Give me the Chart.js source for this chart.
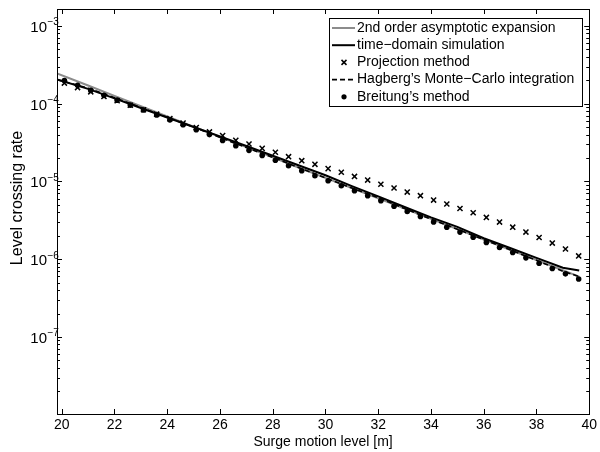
<!DOCTYPE html>
<html>
<head>
<meta charset="utf-8">
<script src="https://cdn.jsdelivr.net/npm/chart.js@4"></script>
<style>
  html, body { margin: 0; padding: 0; background: #fff; }
  #wrap { width: 600px; height: 452px; }
</style>
</head>
<body>
<div id="wrap"><canvas id="rateChart"></canvas></div>
<script>
// surge levels where the markers sit
const levels = [20.1, 20.6, 21.1, 21.6, 22.1, 22.6, 23.1, 23.6, 24.1, 24.6,
  25.1, 25.6, 26.1, 26.6, 27.1, 27.6, 28.1, 28.6, 29.1, 29.6,
  30.1, 30.6, 31.1, 31.6, 32.1, 32.6, 33.1, 33.6, 34.1, 34.6,
  35.1, 35.6, 36.1, 36.6, 37.1, 37.6, 38.1, 38.6, 39.1, 39.6]

const projection = [1.84e-4, 1.61e-4, 1.42e-4, 1.24e-4, 1.09e-4, 9.53e-5, 8.36e-5, 7.33e-5, 6.41e-5, 5.62e-5,
  4.93e-5, 4.33e-5, 3.88e-5, 3.37e-5, 3.03e-5, 2.66e-5, 2.37e-5, 2.08e-5, 1.85e-5, 1.66e-5,
  1.46e-5, 1.31e-5, 1.16e-5, 1.04e-5, 9.20e-6, 8.22e-6, 7.29e-6, 6.55e-6, 5.75e-6, 5.12e-6,
  4.49e-6, 3.95e-6, 3.44e-6, 3.00e-6, 2.58e-6, 2.23e-6, 1.90e-6, 1.61e-6, 1.35e-6, 1.10e-6]

const breitung = [1.99e-4, 1.72e-4, 1.48e-4, 1.28e-4, 1.11e-4, 9.59e-5, 8.28e-5, 7.16e-5, 6.19e-5, 5.35e-5,
  4.62e-5, 4.00e-5, 3.37e-5, 2.88e-5, 2.51e-5, 2.16e-5, 1.87e-5, 1.59e-5, 1.37e-5, 1.18e-5,
  1.02e-5, 8.81e-6, 7.59e-6, 6.55e-6, 5.66e-6, 4.81e-6, 4.10e-6, 3.54e-6, 3.00e-6, 2.58e-6,
  2.23e-6, 1.92e-6, 1.64e-6, 1.41e-6, 1.22e-6, 1.04e-6, 8.87e-7, 7.57e-7, 6.47e-7, 5.57e-7]

// surge levels for the curves
const lineLevels = [19.82, 21, 22, 23, 24, 25, 26, 27, 28, 29, 30,
  31, 32, 33, 34, 35, 36, 37, 38, 39, 39.62]

const asymptotic = [2.44e-4, 1.71e-4, 1.26e-4, 9.30e-5, 6.87e-5, 5.07e-5, 3.74e-5, 2.76e-5, 2.04e-5, 1.50e-5, 1.11e-5,
  8.19e-6, 6.04e-6, 4.47e-6, 3.30e-6, 2.43e-6, 1.79e-6, 1.32e-6, 9.77e-7, 7.21e-7, 5.97e-7]

const timeDomain = [2.05e-4, 1.55e-4, 1.17e-4, 8.81e-5, 6.65e-5, 5.01e-5, 3.80e-5, 2.85e-5, 2.14e-5, 1.60e-5, 1.20e-5,
  8.70e-6, 6.41e-6, 4.68e-6, 3.45e-6, 2.60e-6, 1.86e-6, 1.39e-6, 1.04e-6, 7.76e-7, 7.13e-7]

const hagberg = [2.04e-4, 1.58e-4, 1.19e-4, 8.91e-5, 6.68e-5, 5.01e-5, 3.67e-5, 2.72e-5, 2.04e-5, 1.50e-5, 1.11e-5,
  8.22e-6, 6.17e-6, 4.47e-6, 3.27e-6, 2.43e-6, 1.78e-6, 1.32e-6, 9.66e-7, 7.00e-7, 5.97e-7]

const xTicks = [20, 22, 24, 26, 28, 30, 32, 34, 36, 38, 40]
const yDecades = [1e-7, 1e-6, 1e-5, 1e-4, 1e-3]
const yTitle = 'Level crossing rate'

const FONT = '"Liberation Sans", Arial, Helvetica, sans-serif'

function pairs(xs, ys) {
  return xs.map((x, i) => ({ x: x, y: ys[i] }))
}

// box, inward ticks (matlab style), 10^n labels, y title and the legend box
const boxPlugin = {
  id: 'boxPlugin',
  afterDraw(chart) {
    const ctx = chart.ctx, a = chart.chartArea
    const xs = chart.scales.x, ys = chart.scales.y
    ctx.save()
    ctx.strokeStyle = '#000'
    ctx.lineWidth = 1
    ctx.beginPath()
    xTicks.forEach(t => {
      const px = Math.round(xs.getPixelForValue(t)) + 0.5
      ctx.moveTo(px, a.bottom); ctx.lineTo(px, a.bottom - 5)
      ctx.moveTo(px, a.top); ctx.lineTo(px, a.top + 5)
    })
    for (let e = -8; e <= -3; e++) {
      for (let m = 1; m <= 9; m++) {
        const v = m * Math.pow(10, e)
        if (v < ys.min || v > ys.max) continue
        const py = Math.round(ys.getPixelForValue(v)) + 0.5
        const len = m == 1 ? 5 : 3
        ctx.moveTo(a.left, py); ctx.lineTo(a.left + len, py)
        ctx.moveTo(a.right, py); ctx.lineTo(a.right - len, py)
      }
    }
    ctx.stroke()
    ctx.strokeRect(Math.round(a.left) + 0.5, Math.round(a.top) + 0.5,
      Math.round(a.right - a.left), Math.round(a.bottom - a.top))

    // y tick labels with raised exponent
    ctx.fillStyle = '#000'
    yDecades.forEach(v => {
      const py = ys.getPixelForValue(v)
      const ex = '\u2212' + String(-Math.round(Math.log10(v)))
      ctx.font = '15px ' + FONT
      ctx.textAlign = 'right'
      ctx.textBaseline = 'alphabetic'
      ctx.fillText('10', 47, py + 6)
      ctx.font = '10px ' + FONT
      ctx.textAlign = 'left'
      ctx.fillText(ex, 47.5, py - 0.5)
    })

    // y title
    ctx.save()
    ctx.translate(22, 198)
    ctx.rotate(-Math.PI / 2)
    ctx.font = '16px ' + FONT
    ctx.textAlign = 'center'
    ctx.textBaseline = 'alphabetic'
    ctx.fillText(yTitle, 0, 0)
    ctx.restore()

    // legend
    const x0 = 329.5, y0 = 18.5, w = 253, h = 88
    ctx.fillStyle = '#fff'
    ctx.fillRect(x0, y0, w, h)
    ctx.strokeRect(x0, y0, w, h)
    ctx.font = '14px ' + FONT
    ctx.textAlign = 'left'
    ctx.textBaseline = 'middle'
    chart.data.datasets.forEach((ds, i) => {
      const cy = 28 + i * 17.2
      ctx.fillStyle = '#000'
      ctx.fillText(ds.label, 357, cy)
      if (ds.showLine) {
        ctx.beginPath()
        ctx.setLineDash(ds.borderDash || [])
        ctx.strokeStyle = ds.borderColor
        ctx.lineWidth = ds.borderWidth
        ctx.moveTo(332, cy); ctx.lineTo(355, cy)
        ctx.stroke()
        ctx.setLineDash([])
      } else if (ds.pointStyle == 'crossRot') {
        ctx.beginPath()
        ctx.strokeStyle = '#000'
        ctx.lineWidth = 1.5
        ctx.moveTo(341.5, cy - 2.5); ctx.lineTo(346.5, cy + 2.5)
        ctx.moveTo(341.5, cy + 2.5); ctx.lineTo(346.5, cy - 2.5)
        ctx.stroke()
      } else {
        ctx.beginPath()
        ctx.fillStyle = '#000'
        ctx.arc(344, cy, 2.6, 0, Math.PI * 2)
        ctx.fill()
      }
    })
    ctx.restore()
  }
}

const data = {
  datasets: [
    {
      label: '2nd order asymptotic expansion',
      data: pairs(lineLevels, asymptotic),
      showLine: true, borderColor: '#8c8c8c', borderWidth: 2, pointRadius: 0, order: 5
    },
    {
      label: 'time\u2212domain simulation',
      data: pairs(lineLevels, timeDomain),
      showLine: true, borderColor: '#000', borderWidth: 2, pointRadius: 0, order: 4
    },
    {
      label: 'Projection method',
      data: pairs(levels, projection),
      showLine: false, pointStyle: 'crossRot', pointRadius: 3.6, borderColor: '#000',
      pointBorderWidth: 1.5, backgroundColor: '#000', order: 3
    },
    {
      label: 'Hagberg\u2019s Monte\u2212Carlo integration',
      data: pairs(lineLevels, hagberg),
      showLine: true, borderColor: '#000', borderWidth: 1.6, borderDash: [5, 3], pointRadius: 0, order: 2
    },
    {
      label: 'Breitung\u2019s method',
      data: pairs(levels, breitung),
      showLine: false, pointStyle: 'circle', pointRadius: 2.8, borderColor: '#000',
      backgroundColor: '#000', pointBorderWidth: 0, order: 1
    }
  ]
}

const config = {
  type: 'scatter',
  data,
  options: {
    responsive: true,
    maintainAspectRatio: false,
    animation: false,
    layout: { padding: { top: 9, right: 7, left: 0, bottom: 0 } },
    plugins: { legend: { display: false }, tooltip: { enabled: false } },
    scales: {
      x: {
        type: 'linear',
        min: 19.82,
        max: 40,
        afterBuildTicks: s => { s.ticks = xTicks.map(v => ({ value: v })) },
        afterFit: s => { s.height = 38 },
        grid: { display: false, drawTicks: false },
        border: { display: false },
        ticks: { color: '#000', font: { family: FONT, size: 14 }, padding: 3, maxRotation: 0 },
        title: { display: true, text: 'Surge motion level [m]', color: '#000',
          font: { family: FONT, size: 14 }, padding: { top: 0, bottom: 1 } }
      },
      y: {
        type: 'logarithmic',
        min: 1.02e-8,
        max: 1.65e-3,
        afterBuildTicks: s => { s.ticks = yDecades.map(v => ({ value: v })) },
        afterFit: s => { s.width = 57 },
        grid: { display: false, drawTicks: false },
        border: { display: false },
        ticks: { display: false }
      }
    }
  },
  plugins: [boxPlugin]
}

const rateChart = new Chart(document.getElementById('rateChart'), config)
</script>
</body>
</html>
